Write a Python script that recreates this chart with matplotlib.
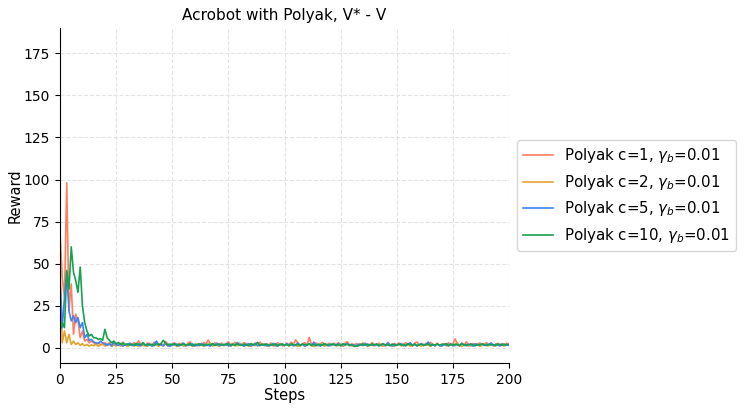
import numpy as np
import matplotlib
matplotlib.use("Agg")
import matplotlib.pyplot as plt

# steps 0..200
steps = np.arange(201)

# Polyak c=1
red = [69, 42, 30, 98, 22, 38, 8, 20, 16, 6, 10, 4, 5, 3, 4, 3, 2, 3, 2, 2, 3,
       2.1, 3.0, 1.5, 2.4, 1.2, 2.8, 1.9, 3.4, 2.2, 1.4,
       2.6, 1.8, 3.1, 2.0, 4.2, 1.6, 2.3, 1.1, 2.9, 2.5,
       1.3, 3.3, 2.0, 1.7, 2.7, 1.0, 3.8, 2.4, 1.5, 2.2,
       3.0, 1.4, 2.6, 1.9, 2.1, 1.2, 2.8, 3.5, 1.6, 2.0,
       1.1, 2.4, 1.8, 3.2, 2.2, 4.6, 2.5, 1.3, 3.0, 2.1,
       1.7, 2.9, 1.4, 2.3, 3.6, 1.8, 2.6, 1.2, 2.0, 2.7,
       1.5, 3.1, 2.2, 1.0, 2.5, 1.9, 2.8, 1.6, 3.4, 2.1,
       1.3, 2.4, 1.8, 2.9, 1.1, 2.2, 3.0, 1.7, 2.5, 1.4,
       2.7, 1.9, 3.3, 2.0, 4.8, 2.6, 1.2, 2.3, 3.1, 1.5,
       6.2, 2.1, 1.8, 2.9, 1.4, 2.4, 3.2, 1.6, 2.0, 2.7,
       1.3, 2.5, 1.9, 3.0, 2.2, 1.1, 2.8, 3.6, 1.7, 2.3,
       1.5, 2.6, 1.2, 2.0, 2.9, 1.8, 2.4, 1.4, 3.1, 2.1,
       1.6, 2.7, 1.9, 2.3, 1.1, 3.3, 2.0, 1.5, 2.6, 1.8,
       2.9, 1.3, 2.2, 3.0, 1.7, 2.4, 1.0, 2.8, 3.5, 1.9,
       2.1, 1.4, 2.6, 1.8, 3.2, 2.3, 1.2, 2.7, 1.6, 2.0,
       2.5, 1.5, 3.0, 1.9, 2.4, 5.3, 2.2, 1.3, 2.8, 1.7,
       3.6, 2.0, 1.1, 2.6, 1.8, 2.3, 2.9, 1.4, 2.1, 3.1,
       1.6, 2.5, 1.2, 2.0, 2.7, 1.5, 2.3, 1.9, 2.8, 1.8]

# Polyak c=2
orange = [50, 3, 10, 3, 8, 2, 4, 2, 3, 1.5, 2.5, 1.2, 2.0, 1.0, 1.8, 1.2, 2.2, 1.0, 1.6, 2.4, 1.1,
          1.4, 2.2, 0.9, 1.8, 1.2, 2.5, 1.0, 1.6, 2.0, 0.8,
          1.5, 2.3, 1.1, 1.9, 0.7, 2.6, 1.3, 1.7, 1.0, 2.1,
          1.2, 3.2, 1.6, 0.9, 2.0, 1.4, 2.4, 1.1, 1.8, 1.3,
          2.2, 0.8, 1.5, 2.7, 1.0, 1.9, 1.3, 2.1, 0.9, 1.6,
          2.4, 1.2, 1.7, 1.0, 2.0, 1.4, 2.9, 1.1, 1.8, 1.5,
          0.9, 2.2, 1.3, 1.6, 2.5, 1.0, 1.9, 3.4, 1.2, 1.7,
          2.1, 1.0, 1.5, 2.3, 0.8, 1.8, 1.3, 2.0, 1.1, 2.6,
          1.4, 1.7, 0.9, 2.2, 1.5, 1.0, 1.9, 2.4, 1.2, 1.6,
          2.0, 1.1, 1.8, 2.7, 1.3, 0.9, 1.6, 2.2, 1.0, 1.5,
          2.3, 1.4, 0.8, 1.9, 1.2, 2.5, 1.7, 1.0, 2.1, 1.3,
          1.6, 2.8, 1.1, 1.4, 2.0, 0.9, 1.8, 2.3, 1.5, 1.2,
          2.1, 1.0, 1.7, 2.4, 1.3, 1.9, 0.8, 1.5, 2.2, 1.1,
          1.8, 2.6, 1.2, 1.0, 2.0, 1.6, 1.4, 2.3, 0.9, 1.7,
          2.5, 1.1, 1.9, 1.3, 2.1, 1.0, 1.6, 2.4, 1.2, 1.8,
          1.0, 2.2, 1.5, 1.7, 0.9, 2.0, 1.3, 2.6, 1.1, 1.9,
          2.3, 1.4, 1.0, 1.8, 2.1, 1.2, 3.0, 1.5, 0.8, 1.6,
          1.9, 1.1, 2.4, 1.3, 1.7, 2.0, 1.0, 1.5, 2.2, 1.4,
          1.2, 2.7, 1.6, 1.0, 1.9, 2.3, 1.4, 1.1, 2.0, 2.5]

# Polyak c=5
blue = [40, 12, 30, 45, 22, 16, 19, 15, 18, 12, 15, 6, 8, 4.5, 5, 3.5, 3, 2.5, 4, 3, 2.2,
        1.6, 2.4, 1.2, 3.5, 1.9, 1.4, 2.6, 1.0, 2.1, 1.7,
        2.8, 1.3, 2.0, 1.5, 2.3, 1.1, 3.0, 1.8, 1.4, 2.2,
        1.0, 2.5, 4.0, 1.6, 1.9, 1.2, 2.7, 1.4, 0.9, 2.1,
        1.7, 2.3, 1.1, 1.8, 2.9, 1.3, 2.0, 1.5, 2.4, 1.0,
        1.9, 1.4, 2.6, 1.2, 2.1, 1.7, 1.0, 2.3, 1.6, 2.8,
        1.3, 2.0, 1.5, 2.5, 1.1, 1.8, 2.2, 1.4, 3.2, 1.6,
        2.1, 1.0, 1.9, 2.4, 1.3, 1.7, 2.6, 1.2, 2.0, 1.5,
        2.3, 1.1, 1.8, 1.4, 2.7, 1.6, 1.0, 2.2, 1.9, 1.3,
        2.5, 1.5, 2.0, 1.2, 1.7, 2.9, 1.4, 2.1, 1.1, 1.8,
        2.4, 1.3, 3.4, 1.6, 2.0, 1.0, 1.9, 2.3, 1.5, 1.2,
        2.2, 1.7, 1.4, 2.6, 1.1, 2.0, 1.8, 2.5, 1.3, 2.1,
        1.6, 1.0, 2.3, 1.9, 1.4, 2.7, 1.2, 2.0, 1.7, 1.5,
        2.4, 1.1, 1.8, 2.2, 1.3, 2.9, 1.6, 1.0, 2.1, 1.5,
        1.9, 2.5, 1.2, 1.7, 2.0, 3.1, 1.4, 2.3, 1.1, 1.8,
        2.6, 1.3, 2.0, 3.5, 1.6, 1.9, 1.2, 2.2, 1.5, 1.0,
        2.1, 1.7, 1.4, 2.4, 1.1, 1.8, 2.0, 1.3, 2.7, 1.6,
        1.2, 2.2, 1.9, 1.0, 2.5, 1.5, 1.8, 2.3, 1.4, 2.0,
        1.7, 2.9, 1.3, 2.1, 1.6, 1.1, 2.4, 1.8, 1.5, 2.2]

# Polyak c=10
green = [10, 15, 12, 46, 35, 60, 45, 40, 33, 48, 25, 15, 10, 7, 8, 6, 6, 5, 5.5, 4.5, 11,
         6.0, 4.5, 3.0, 4.0, 2.5, 3.2, 2.0, 2.8, 1.9, 2.4,
         1.6, 2.2, 1.4, 2.6, 1.8, 2.0, 3.0, 1.5, 2.3, 1.7,
         2.1, 1.3, 2.6, 1.9, 2.4, 4.5, 2.8, 1.6, 2.2, 1.8,
         2.5, 1.4, 2.0, 1.7, 2.3, 1.5, 1.9, 2.6, 1.2, 2.1,
         1.8, 2.4, 1.6, 2.0, 1.3, 2.2, 1.7, 2.5, 1.4, 1.9,
         2.3, 1.5, 2.1, 1.8, 2.6, 1.2, 2.0, 1.6, 2.4, 1.7,
         1.4, 2.2, 1.9, 1.3, 2.5, 1.8, 2.0, 3.3, 1.5, 2.1,
         1.7, 2.3, 1.2, 2.0, 1.6, 2.4, 1.4, 1.9, 2.2, 1.5,
         2.0, 1.3, 2.5, 1.8, 1.6, 2.1, 1.4, 2.3, 1.9, 1.7,
         2.4, 1.5, 2.0, 1.2, 2.2, 1.8, 1.6, 2.5, 1.4, 2.1,
         1.9, 2.3, 1.6, 2.0, 1.3, 2.4, 1.8, 2.1, 1.5, 1.7,
         0.9, 1.0, 1.4, 1.8, 2.2, 1.6, 2.0, 1.5, 2.3, 1.7,
         2.1, 1.4, 1.9, 2.4, 1.6, 2.0, 1.3, 2.2, 1.8, 1.5,
         2.3, 1.7, 2.0, 1.2, 2.5, 1.9, 1.6, 2.1, 1.4, 1.8,
         2.2, 1.5, 1.9, 2.4, 1.3, 2.0, 1.7, 2.3, 1.6, 2.1,
         1.8, 2.5, 1.4, 2.0, 1.6, 2.2, 1.9, 1.3, 2.4, 1.7,
         2.0, 1.5, 2.3, 1.8, 1.2, 2.1, 1.6, 2.4, 1.9, 1.4,
         2.2, 1.7, 2.0, 1.5, 2.3, 1.8, 1.6, 2.1, 1.9, 1.5]

labels = [r"Polyak c=1, $\gamma_b$=0.01",
          r"Polyak c=2, $\gamma_b$=0.01",
          r"Polyak c=5, $\gamma_b$=0.01",
          r"Polyak c=10, $\gamma_b$=0.01"]
colors = ["#ff7f5e", "#e5a42f", "#3f83f7", "#17a24f"]


def main():
    fig = plt.figure(figsize=(7.48, 4.12), dpi=100)
    ax = fig.add_axes([60 / 748, 1 - 363 / 412, 449 / 748, 335 / 412])

    for ys, lab, c in zip([red, orange, blue, green], labels, colors):
        ax.plot(steps, ys, color=c, linewidth=1.2, label=lab)

    ax.set_xlim(0, 200)
    ax.set_ylim(-9, 190)
    ax.set_xticks(np.arange(0, 201, 25))
    ax.set_yticks(np.arange(0, 176, 25))
    ax.grid(True, linestyle="--", color="#e3e3e3", linewidth=0.8)
    ax.spines["top"].set_visible(False)
    ax.spines["right"].set_visible(False)
    ax.tick_params(labelsize=10)

    ax.set_xlabel("Steps", fontsize=10.5, labelpad=1)
    ax.set_ylabel("Reward", fontsize=10.5, labelpad=1)
    ax.set_title("Acrobot with Polyak, V* - V", fontsize=11)

    ax.legend(loc="center left", bbox_to_anchor=(1.0, 0.5), fontsize=10.8,
              handlelength=2.0, frameon=True)

    fig.savefig("out.png", dpi=100)
    plt.close(fig)


if __name__ == "__main__":
    main()
